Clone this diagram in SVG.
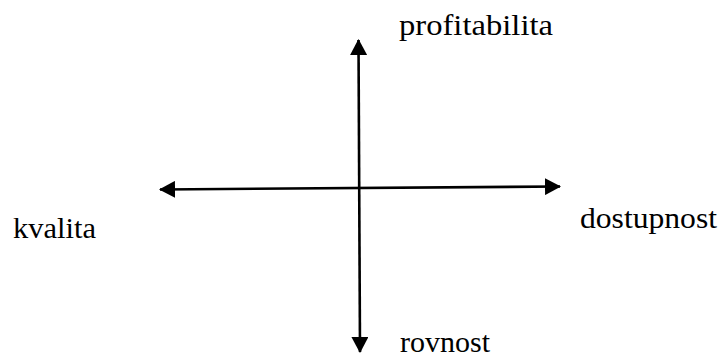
<svg xmlns="http://www.w3.org/2000/svg" width="722" height="359" viewBox="0 0 722 359">
<defs>
<style>
.lbl{font-family:"Liberation Serif","Times New Roman",serif;font-size:30px;fill:#000}
.ax{stroke:#000;stroke-width:2.6;fill:none}
</style>
<marker id="ah" viewBox="0 0 16 17" refX="15" refY="8.5" markerWidth="16" markerHeight="17" markerUnits="userSpaceOnUse" orient="auto-start-reverse">
<path d="M0,0 L16,8.5 L0,17 Z" fill="#000"/>
</marker>
</defs>
<rect width="722" height="359" fill="#fff"/>
<g id="connectors">
<line class="ax" x1="358.5" y1="40" x2="360" y2="352" marker-start="url(#ah)" marker-end="url(#ah)"/>
<line class="ax" x1="160" y1="189.5" x2="560" y2="186.5" marker-start="url(#ah)" marker-end="url(#ah)"/>
</g>
<g id="profitabilita"><text class="lbl" x="399" y="35" textLength="154" lengthAdjust="spacingAndGlyphs">profitabilita</text></g>
<g id="kvalita"><text class="lbl" x="13" y="238" textLength="83" lengthAdjust="spacingAndGlyphs">kvalita</text></g>
<g id="dostupnost"><text class="lbl" x="580" y="228" textLength="137" lengthAdjust="spacingAndGlyphs">dostupnost</text></g>
<g id="rovnost"><text class="lbl" x="400" y="352">rovnost</text></g>
</svg>
